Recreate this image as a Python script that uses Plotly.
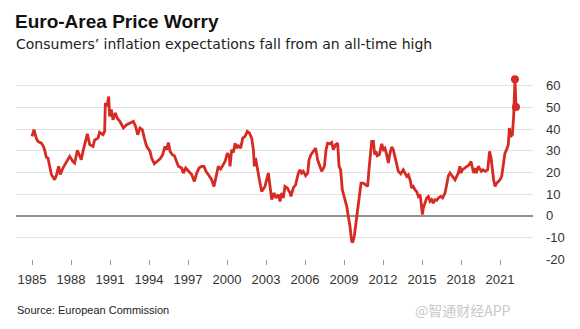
import plotly.graph_objects as go

# Decimal-year positions and values
years = [
    1985.0, 1985.15, 1985.33, 1985.46, 1985.72, 1985.85, 1985.97, 1986.1, 1986.23, 1986.36,
    1986.49, 1986.74, 1986.87, 1987.05, 1987.18, 1987.38, 1987.64, 1987.9, 1988.15, 1988.28,
    1988.49, 1988.67, 1988.79, 1988.92, 1989.26, 1989.44, 1989.69, 1989.82, 1990.08, 1990.2,
    1990.46, 1990.59, 1990.64, 1990.77, 1990.9, 1990.97, 1991.1, 1991.23, 1991.41, 1991.56,
    1991.77, 1991.9, 1992.03, 1992.28, 1992.54, 1992.8, 1992.97, 1993.13, 1993.31, 1993.49,
    1993.64, 1993.82, 1994.08, 1994.2, 1994.41, 1994.59, 1994.85, 1995.05, 1995.23, 1995.36,
    1995.49, 1995.62, 1995.79, 1995.95, 1996.13, 1996.26, 1996.51, 1996.64, 1996.82, 1997.03,
    1997.28, 1997.49, 1997.67, 1997.85, 1998.05, 1998.23, 1998.38, 1998.56, 1998.82, 1999.0,
    1999.15, 1999.33, 1999.51, 1999.67, 1999.85, 2000.03, 2000.18, 2000.23, 2000.36, 2000.49,
    2000.62, 2000.74, 2000.87, 2001.05, 2001.21, 2001.39, 2001.56, 2001.72, 2001.9, 2002.03,
    2002.1, 2002.2, 2002.33, 2002.49, 2002.67, 2002.92, 2003.18, 2003.31, 2003.44, 2003.62,
    2003.77, 2003.95, 2004.08, 2004.21, 2004.33, 2004.46, 2004.64, 2004.85, 2004.92, 2005.1,
    2005.28, 2005.49, 2005.62, 2005.74, 2005.87, 2006.05, 2006.21, 2006.31, 2006.46, 2006.64,
    2006.82, 2006.97, 2007.15, 2007.28, 2007.49, 2007.62, 2007.74, 2007.92, 2008.05, 2008.18,
    2008.36, 2008.51, 2008.62, 2008.74, 2008.87, 2009.03, 2009.21, 2009.33, 2009.46, 2009.59,
    2009.67, 2009.79, 2009.97, 2010.15, 2010.31, 2010.49, 2010.67, 2010.82, 2010.92, 2011.08,
    2011.13, 2011.26, 2011.36, 2011.46, 2011.56, 2011.72, 2011.9, 2012.03, 2012.15, 2012.28,
    2012.41, 2012.54, 2012.67, 2012.79, 2012.92, 2013.05, 2013.18, 2013.36, 2013.56, 2013.69,
    2013.82, 2013.95, 2014.08, 2014.21, 2014.33, 2014.46, 2014.59, 2014.72, 2014.85, 2014.92,
    2015.03, 2015.1, 2015.23, 2015.36, 2015.49, 2015.62, 2015.74, 2015.87, 2015.99, 2016.13,
    2016.26, 2016.44, 2016.59, 2016.77, 2016.9, 2017.03, 2017.15, 2017.36, 2017.54, 2017.67,
    2017.79, 2017.92, 2018.0, 2018.1, 2018.26, 2018.44, 2018.62, 2018.77, 2018.87, 2018.97,
    2019.08, 2019.18, 2019.33, 2019.46, 2019.56, 2019.69, 2019.87, 2020.05, 2020.2, 2020.31,
    2020.41, 2020.51, 2020.62, 2020.74, 2020.87, 2021.0, 2021.13, 2021.26, 2021.38, 2021.51,
    2021.64, 2021.72, 2021.82, 2021.95, 2022.05, 2022.15, 2022.23,
]
values = [
    36.6, 39.7, 35.8, 34.3, 33.5, 32.3, 30.5, 27.0, 26.6, 22.0,
    19.0, 16.6, 18.5, 22.8, 19.0, 22.0, 25.0, 27.4, 25.0, 24.3,
    30.2, 27.0, 25.8, 29.7, 37.8, 32.8, 32.0, 35.0, 35.8, 38.5,
    37.4, 39.0, 52.0, 50.5, 55.0, 45.8, 49.0, 44.3, 47.4, 45.0,
    43.5, 42.0, 40.5, 42.0, 42.8, 43.5, 41.2, 37.4, 40.5, 39.7,
    35.8, 32.0, 29.7, 26.6, 24.0, 25.0, 26.2, 28.2, 32.0, 30.5,
    33.8, 29.7, 28.2, 27.7, 24.3, 22.8, 22.0, 19.7, 22.0, 20.5,
    19.0, 15.8, 19.7, 22.0, 22.8, 22.8, 20.5, 19.0, 16.6, 13.5,
    18.2, 22.8, 21.5, 23.5, 25.0, 28.9, 27.4, 22.8, 30.5, 29.2,
    33.5, 31.2, 32.3, 31.2, 35.8, 36.6, 38.9, 38.2, 35.8, 30.5,
    22.8, 26.6, 21.2, 16.6, 11.2, 13.5, 19.7, 13.5, 7.4, 10.5,
    8.2, 9.7, 6.6, 10.5, 8.2, 13.5, 12.8, 10.5, 8.9, 12.8,
    14.3, 19.7, 21.2, 19.7, 20.5, 18.5, 19.7, 25.8, 28.2, 29.7,
    31.2, 25.8, 22.8, 20.5, 22.8, 30.5, 33.5, 33.2, 33.8, 30.5,
    32.8, 33.5, 22.8, 21.2, 12.0, 8.9, 4.3, -0.3, -4.9, -11.8,
    -12.3, -9.5, -0.3, 8.9, 15.0, 15.0, 14.3, 13.5, 21.2, 31.2,
    34.3, 34.3, 28.2, 29.7, 27.7, 28.2, 33.2, 30.5, 31.2, 28.2,
    24.3, 28.9, 31.7, 30.5, 26.6, 24.3, 20.5, 19.4, 21.2, 19.7,
    18.2, 18.9, 16.6, 12.8, 13.5, 12.0, 11.2, 8.9, 9.7, 6.6,
    0.5, 3.5, 5.8, 8.2, 8.9, 6.6, 7.4, 5.8, 7.4, 7.1,
    8.2, 8.9, 8.2, 10.5, 14.3, 18.5, 19.7, 18.2, 16.6, 18.2,
    19.7, 22.8, 19.7, 21.2, 22.0, 22.8, 23.5, 25.0, 22.8, 19.7,
    22.0, 19.7, 22.8, 21.2, 20.5, 21.2, 20.5, 21.2, 29.7, 26.6,
    21.2, 16.6, 13.5, 15.0, 15.8, 16.6, 18.2, 22.8, 28.9, 30.5,
    32.8, 40.5, 36.6, 37.4, 45.8, 63.0, 50.2,
]

x_ticks = [1985, 1988, 1991, 1994, 1997, 2000, 2003, 2006, 2009, 2012, 2015, 2018, 2021]
x_tick_labels = [str(t) for t in x_ticks]
y_ticks = [-20, -10, 0, 10, 20, 30, 40, 50, 60]
y_tick_labels = [str(t) for t in y_ticks]

title = "Euro-Area Price Worry"
subtitle = "Consumers’ inflation expectations fall from an all-time high"
source = "Source: European Commission"
watermark = "@智通财经APP"

RED = "#d62a22"
FONT = "Liberation Sans, Arial, sans-serif"
WIDE = "DejaVu Sans, sans-serif"

fig = go.Figure()
fig.add_trace(go.Scatter(
    x=years, y=values, mode="lines",
    line=dict(color=RED, width=2.8),
    hoverinfo="skip", showlegend=False,
))
fig.add_trace(go.Scatter(
    x=years[-2:], y=values[-2:], mode="markers",
    marker=dict(color=RED, size=8),
    hoverinfo="skip", showlegend=False,
))

fig.update_layout(
    width=580, height=329,
    margin=dict(l=16, r=47, t=68, b=70),
    paper_bgcolor="white", plot_bgcolor="white",
    font=dict(family=FONT, color="#333333", size=12),
    title=dict(
        text=f"<b>{title}</b>", x=15 / 580, xanchor="left", xref="container",
        y=1 - 21.5 / 329, yanchor="middle", yref="container",
        font=dict(size=19, color="#111111", family=FONT),
    ),
    xaxis=dict(
        range=[1985 - 16 / 13, 1985 + 501 / 13],
        tickvals=x_ticks, ticktext=x_tick_labels,
        showgrid=False, zeroline=False, showline=False,
        ticks="outside", ticklen=5, tickwidth=1, tickcolor="#999999",
        tickfont=dict(size=13, color="#333333"),
        ticklabelstandoff=3,
    ),
    yaxis=dict(
        range=[-20, 68.2], side="right",
        tickvals=y_ticks, ticktext=y_tick_labels,
        showgrid=True, gridcolor="#e2e2e2", gridwidth=1,
        zeroline=True, zerolinecolor="#8f8f8f", zerolinewidth=1.6,
        showline=False, ticks="",
        tickfont=dict(size=13, color="#333333"),
        ticklabelstandoff=12,
    ),
    annotations=[
        dict(text=subtitle, xref="paper", yref="paper", x=0, xanchor="left",
             y=1 + (68 - 44.5) / 191, yanchor="middle", showarrow=False,
             font=dict(size=14, color="#222222", family=WIDE), xshift=-2),
        dict(text=source, xref="paper", yref="paper", x=0, xanchor="left",
             y=-(310 - 259) / 191, yanchor="middle", showarrow=False,
             font=dict(size=11, color="#222222", family=FONT), xshift=-1),
        dict(text=watermark, xref="paper", yref="paper", x=(513 - 16) / 517, xanchor="right",
             y=-(310 - 259) / 191, yanchor="middle", showarrow=False,
             font=dict(size=14, color="#c9c9c9", family="Noto Sans CJK SC, sans-serif")),
    ],
)

fig.write_html("out.html")
